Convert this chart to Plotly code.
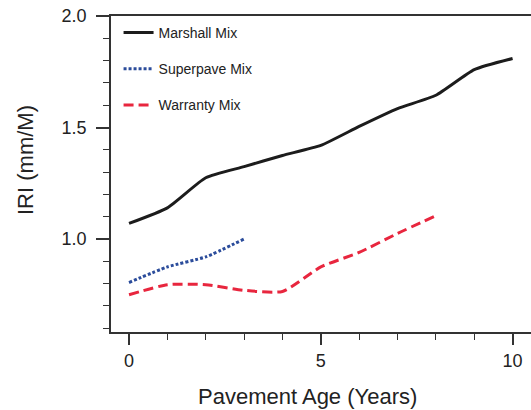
import plotly.graph_objects as go

years_marshall = [0, 1, 2, 3, 4, 5, 6, 7, 8, 9, 10]
iri_marshall = [1.07, 1.14, 1.275, 1.325, 1.375, 1.42, 1.505, 1.585, 1.645, 1.76, 1.81]

years_superpave = [0, 1, 2, 3]
iri_superpave = [0.805, 0.875, 0.92, 1.0]

years_warranty = [0, 1, 2, 3, 4, 5, 6, 7, 8]
iri_warranty = [0.75, 0.795, 0.795, 0.77, 0.765, 0.875, 0.94, 1.025, 1.105]

x_tick_vals = [0, 5, 10]
y_tick_vals = [1.0, 1.5, 2.0]
y_tick_text = ["1.0", "1.5", "2.0"]

FONT = "Liberation Sans, Arial, sans-serif"

# plot area in page: left 111, right 531, top 16, bottom 332
fig = go.Figure()
fig.add_trace(go.Scatter(x=years_marshall, y=iri_marshall, mode="lines", name="Marshall Mix",
                         legendgroup="a",
                         line=dict(color="#1c1c1c", width=3, shape="spline", smoothing=0.5)))
fig.add_trace(go.Scatter(x=years_superpave, y=iri_superpave, mode="lines", name="Superpave Mix",
                         legendgroup="b",
                         line=dict(color="#2b4c9b", width=3, dash="3px,2px", shape="spline", smoothing=0.5)))
fig.add_trace(go.Scatter(x=years_warranty, y=iri_warranty, mode="lines", name="Warranty Mix",
                         legendgroup="c",
                         line=dict(color="#e8263e", width=3, dash="10px,5px", shape="spline", smoothing=0.6)))

fig.update_layout(
    width=531, height=410,
    margin=dict(l=111, r=0, t=16, b=78, autoexpand=False),
    paper_bgcolor="white", plot_bgcolor="white",
    font=dict(family=FONT, color="#222"),
    showlegend=True,
    legend=dict(x=0.018, y=0.997, xanchor="left", yanchor="top",
                bgcolor="rgba(0,0,0,0)", font=dict(size=14, color="#222"),
                tracegroupgap=15, itemwidth=30),
    xaxis=dict(range=[-0.47, 10.48], showgrid=False, zeroline=False, automargin=False,
               showline=True, linecolor="#333", linewidth=1.5, mirror=True,
               tickmode="array", tickvals=x_tick_vals,
               ticks="outside", ticklen=11, tickwidth=1.5, tickcolor="#333",
               ticklabelstandoff=1, ticklabeloverflow="allow",
               tickfont=dict(size=18, color="#222"),
               minor=dict(dtick=1, tick0=0, ticks="outside", ticklen=6, tickwidth=1.2, tickcolor="#333")),
    yaxis=dict(range=[0.583, 2.0005], showgrid=False, zeroline=False, automargin=False,
               showline=True, linecolor="#333", linewidth=1.5, mirror=False,
               tickmode="array", tickvals=y_tick_vals, ticktext=y_tick_text,
               ticks="outside", ticklen=13, tickwidth=1.5, tickcolor="#333",
               ticklabelstandoff=6, ticklabeloverflow="allow",
               tickfont=dict(size=18, color="#222"),
               minor=dict(dtick=0.1, tick0=0, ticks="outside", ticklen=6, tickwidth=1.2, tickcolor="#333")),
    annotations=[
        dict(text="Pavement Age (Years)", xref="paper", yref="paper",
             x=(307 - 111) / 420, y=-(396 - 332) / 316, xanchor="center", yanchor="middle",
             showarrow=False, font=dict(size=22, color="#222")),
        dict(text="IRI (mm/M)", xref="paper", yref="paper", textangle=-90,
             x=-(111 - 25) / 420, y=(332 - 160) / 316, xanchor="center", yanchor="middle",
             showarrow=False, font=dict(size=22, color="#222")),
    ],
)

fig.write_html("out.html", config={"displayModeBar": False},
               post_script="document.body.style.margin='0';")
